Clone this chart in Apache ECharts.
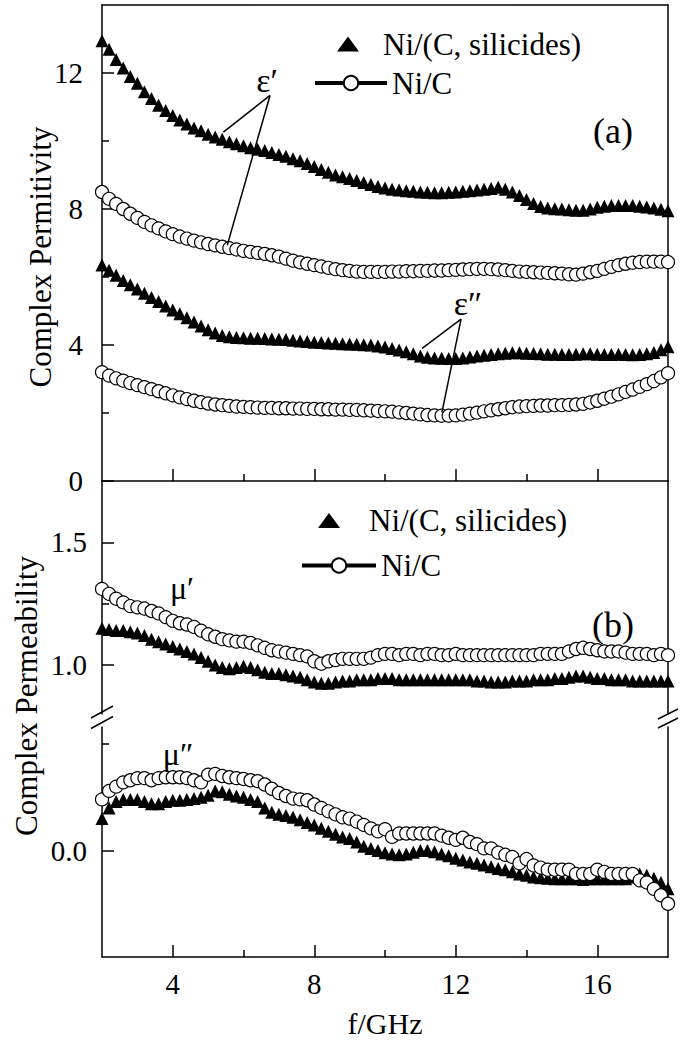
<!DOCTYPE html>
<html>
<head>
<meta charset="utf-8">
<script src="https://cdn.jsdelivr.net/npm/echarts@6.0.0/dist/echarts.min.js"></script>
<style>
html,body{margin:0;padding:0;background:#fff;}
#chart{width:685px;height:1042px;}
</style>
</head>
<body>
<div id="chart"></div>
<script>
// ---------------- data ----------------
const freq = [2.0,2.2,2.4,2.6,2.8,3.0,3.2,3.4,3.6,3.8,4.0,4.2,4.4,4.6,4.8,5.0,5.2,5.4,5.6,5.8,
  6.0,6.2,6.4,6.6,6.8,7.0,7.2,7.4,7.6,7.8,8.0,8.2,8.4,8.6,8.8,9.0,9.2,9.4,9.6,9.8,
  10.0,10.2,10.4,10.6,10.8,11.0,11.2,11.4,11.6,11.8,12.0,12.2,12.4,12.6,12.8,13.0,13.2,13.4,13.6,13.8,
  14.0,14.2,14.4,14.6,14.8,15.0,15.2,15.4,15.6,15.8,16.0,16.2,16.4,16.6,16.8,17.0,17.2,17.4,17.6,17.8,18.0];

// (a) complex permittivity
const epsRealSil = [12.95,12.7,12.4,12.15,11.9,11.7,11.45,11.25,11.05,10.9,10.75,10.62,10.5,10.38,10.3,10.2,10.12,10.05,9.98,9.92,
  9.86,9.8,9.76,9.72,9.66,9.6,9.55,9.48,9.42,9.34,9.25,9.16,9.08,9.0,8.95,8.9,8.84,8.78,8.72,8.66,
  8.62,8.58,8.56,8.54,8.52,8.5,8.49,8.48,8.48,8.49,8.5,8.52,8.54,8.56,8.58,8.6,8.64,8.58,8.5,8.4,
  8.28,8.16,8.07,8.03,8.01,8.0,7.98,7.96,7.96,8.0,8.05,8.08,8.1,8.1,8.1,8.1,8.08,8.06,8.03,7.99,7.95];
const epsRealNiC = [8.5,8.3,8.15,8.0,7.86,7.74,7.62,7.52,7.43,7.34,7.26,7.19,7.13,7.07,7.02,6.97,6.93,6.89,6.85,6.81,
  6.77,6.74,6.71,6.68,6.64,6.6,6.54,6.48,6.43,6.39,6.35,6.31,6.27,6.23,6.2,6.18,6.16,6.15,6.15,6.15,
  6.15,6.16,6.16,6.17,6.17,6.18,6.18,6.19,6.19,6.2,6.21,6.22,6.23,6.24,6.24,6.23,6.22,6.2,6.18,6.16,
  6.15,6.14,6.13,6.12,6.11,6.1,6.08,6.07,6.1,6.14,6.18,6.24,6.3,6.35,6.39,6.42,6.44,6.45,6.45,6.45,6.44];
const epsImagSil = [6.35,6.2,6.05,5.9,5.77,5.65,5.52,5.4,5.28,5.15,5.03,4.92,4.8,4.68,4.56,4.45,4.35,4.28,4.24,4.22,
  4.21,4.2,4.2,4.19,4.18,4.17,4.16,4.14,4.12,4.1,4.08,4.07,4.06,4.05,4.04,4.03,4.02,4.01,4.0,3.97,
  3.94,3.9,3.85,3.8,3.74,3.68,3.64,3.62,3.61,3.6,3.6,3.62,3.65,3.68,3.7,3.72,3.74,3.76,3.77,3.77,
  3.76,3.75,3.74,3.73,3.73,3.72,3.72,3.73,3.74,3.74,3.73,3.72,3.72,3.73,3.72,3.71,3.72,3.74,3.78,3.86,3.95];
const epsImagNiC = [3.2,3.1,3.02,2.95,2.88,2.82,2.76,2.7,2.64,2.58,2.52,2.46,2.41,2.36,2.32,2.28,2.25,2.23,2.21,2.19,
  2.18,2.17,2.16,2.15,2.15,2.14,2.14,2.13,2.13,2.12,2.12,2.11,2.11,2.1,2.1,2.09,2.09,2.08,2.07,2.06,
  2.05,2.04,2.02,2.0,1.98,1.96,1.94,1.93,1.92,1.92,1.93,1.95,1.98,2.01,2.05,2.08,2.11,2.14,2.17,2.19,
  2.2,2.21,2.22,2.22,2.23,2.23,2.24,2.25,2.27,2.31,2.36,2.42,2.48,2.55,2.62,2.69,2.77,2.85,2.94,3.05,3.17];

// (b) complex permeability
const muRealSil = [1.15,1.145,1.14,1.14,1.135,1.13,1.12,1.105,1.095,1.085,1.075,1.065,1.055,1.045,1.03,1.015,1.0,0.99,0.985,0.99,
  0.995,0.99,0.98,0.97,0.965,0.965,0.96,0.955,0.95,0.94,0.93,0.925,0.925,0.93,0.935,0.935,0.94,0.94,0.94,0.945,
  0.945,0.945,0.94,0.94,0.94,0.94,0.94,0.94,0.94,0.94,0.94,0.94,0.94,0.935,0.935,0.93,0.93,0.93,0.935,0.935,
  0.935,0.94,0.94,0.94,0.945,0.945,0.95,0.955,0.955,0.95,0.945,0.945,0.94,0.94,0.94,0.935,0.935,0.935,0.935,0.935,0.935];
const muRealNiC = [1.31,1.29,1.27,1.255,1.24,1.235,1.23,1.22,1.21,1.195,1.18,1.17,1.165,1.155,1.14,1.125,1.115,1.105,1.1,1.095,
  1.095,1.09,1.08,1.07,1.06,1.055,1.05,1.045,1.04,1.035,1.015,1.005,1.015,1.02,1.025,1.025,1.025,1.025,1.03,1.04,
  1.045,1.045,1.04,1.045,1.045,1.04,1.045,1.045,1.04,1.04,1.045,1.04,1.04,1.04,1.04,1.04,1.04,1.04,1.04,1.04,
  1.04,1.04,1.045,1.045,1.045,1.045,1.055,1.065,1.07,1.065,1.06,1.055,1.055,1.055,1.05,1.045,1.045,1.045,1.04,1.045,1.04];
const muImagSil = [0.075,0.1,0.115,0.12,0.12,0.12,0.115,0.11,0.11,0.115,0.118,0.118,0.12,0.122,0.125,0.13,0.14,0.138,0.132,0.128,
  0.125,0.12,0.115,0.1,0.09,0.085,0.082,0.078,0.072,0.066,0.06,0.052,0.045,0.038,0.032,0.028,0.02,0.01,0.005,0.0,
  -0.005,-0.008,-0.01,-0.008,-0.004,0.0,0.0,-0.003,-0.008,-0.012,-0.018,-0.022,-0.027,-0.03,-0.034,-0.038,-0.042,-0.045,-0.05,-0.055,
  -0.058,-0.062,-0.064,-0.065,-0.066,-0.066,-0.066,-0.066,-0.068,-0.066,-0.066,-0.066,-0.066,-0.066,-0.066,-0.062,-0.055,-0.058,-0.065,-0.075,-0.09];
const muImagNiC = [0.12,0.14,0.15,0.16,0.165,0.17,0.17,0.165,0.17,0.172,0.172,0.172,0.17,0.165,0.16,0.178,0.18,0.175,0.172,0.17,
  0.168,0.165,0.163,0.155,0.145,0.135,0.128,0.122,0.12,0.118,0.108,0.1,0.092,0.085,0.078,0.075,0.068,0.06,0.052,0.045,
  0.05,0.032,0.04,0.04,0.04,0.04,0.04,0.04,0.035,0.03,0.025,0.03,0.02,0.015,0.005,0.005,-0.005,-0.01,-0.015,-0.03,
  -0.02,-0.035,-0.04,-0.045,-0.045,-0.045,-0.045,-0.055,-0.055,-0.055,-0.045,-0.05,-0.055,-0.055,-0.055,-0.055,-0.07,-0.075,-0.09,-0.105,-0.125];

// tick values
const xMajor = [4, 8, 12, 16];
const xMinor = [6, 10, 14];
const yMajorA = [0, 4, 8, 12];
const yMinorA = [2, 6, 10];
const yMajorB1 = [1.0, 1.5];
const yMinorB1 = [1.25];
const yMajorB2 = [0.0];
const yMinorB2 = [0.25];

// annotation pointers (data coordinates of panel a)
const epsRealPointer = [[6.75, 11.34], [5.43, 10.26], [5.54, 6.93]];
const epsImagPointer = [[12.15, 4.76], [11.05, 3.90], [11.61, 2.02]];

const NAME_SIL = 'Ni/(C, silicides)';
const NAME_NIC = 'Ni/C';
// -----------------------------------------------------------------------

const FONT = 'Liberation Serif';
const pairs = arr => freq.map((f, i) => [f, arr[i]]);

function mkAxis(gridIndex, position, min, max, o) {
  o = o || {};
  const ax = {
    type: 'value', gridIndex: gridIndex, position: position, min: min, max: max,
    splitLine: {show: false},
    axisLine: {show: !!o.line, onZero: false, lineStyle: {color: '#000', width: 1.5}},
    axisTick: {show: !!o.ticks, inside: true, length: o.len || 12,
      lineStyle: {color: '#000', width: 1.5}},
    axisLabel: {show: !!o.labels, margin: o.margin || 14, color: '#000',
      fontFamily: FONT, fontSize: 29},
    axisPointer: {show: false}
  };
  if (o.ticks) ax.axisTick.customValues = o.ticks;
  if (o.labels) { ax.axisLabel.customValues = o.labels; }
  if (o.fmt) ax.axisLabel.formatter = o.fmt;
  if (o.name) {
    ax.name = o.name; ax.nameLocation = 'middle'; ax.nameGap = o.nameGap;
    ax.nameTextStyle = {color: '#000', fontFamily: FONT, fontSize: 30};
  }
  return ax;
}
const fmt1 = v => Number(v).toFixed(1);
const fmt0 = v => String(Math.round(v));

const grids = [
  {left: 102, top: 5, width: 566, height: 476},
  {left: 102, top: 481, width: 566, height: 233},
  {left: 102, top: 727, width: 566, height: 230}
].map(g => Object.assign(g, {containLabel: false, outerBoundsMode: 'none'}));

const xAxes = [
  mkAxis(0, 'bottom', 2, 18, {line: true, ticks: xMajor, len: 12}),           // 0
  mkAxis(0, 'bottom', 2, 18, {ticks: xMinor, len: 7}),                        // 1
  mkAxis(0, 'top', 2, 18, {line: true}),                                       // 2
  mkAxis(1, 'bottom', 2, 18, {}),                                              // 3
  mkAxis(2, 'bottom', 2, 18, {line: true, ticks: xMajor, len: 12, labels: xMajor, margin: 12,
    fmt: fmt0, name: 'f/GHz', nameGap: 51}),                                   // 4
  mkAxis(2, 'bottom', 2, 18, {ticks: xMinor, len: 7})                          // 5
];
const yAxes = [
  mkAxis(0, 'left', 0, 14, {line: true, ticks: yMajorA, len: 12, labels: yMajorA, margin: 19, fmt: fmt0}), // 0
  mkAxis(0, 'left', 0, 14, {ticks: yMinorA, len: 7}),                                                  // 1
  mkAxis(0, 'right', 0, 14, {line: true}),                                                             // 2
  mkAxis(1, 'left', 0.8, 1.75, {line: true, ticks: yMajorB1, len: 12, labels: yMajorB1, margin: 15, fmt: fmt1}), // 3
  mkAxis(1, 'left', 0.8, 1.75, {ticks: yMinorB1, len: 7}),                                             // 4
  mkAxis(1, 'right', 0.8, 1.75, {line: true}),                                                         // 5
  mkAxis(2, 'left', -0.25, 0.29, {line: true, ticks: yMajorB2, len: 12, labels: yMajorB2, margin: 15, fmt: fmt1}), // 6
  mkAxis(2, 'left', -0.25, 0.29, {ticks: yMinorB2, len: 7}),                                           // 7
  mkAxis(2, 'right', -0.25, 0.29, {line: true})                                                        // 8
];

function triSeries(name, arr, xi, yi, extra) {
  return Object.assign({
    name: name, type: 'scatter', xAxisIndex: xi, yAxisIndex: yi,
    symbol: 'triangle', symbolSize: 13, symbolKeepAspect: true,
    itemStyle: {color: '#000', opacity: 1},
    data: pairs(arr), silent: true, z: 2
  }, extra || {});
}
function circSeries(name, arr, xi, yi) {
  return {
    name: name, type: 'line', xAxisIndex: xi, yAxisIndex: yi,
    symbol: 'circle', symbolSize: 13, showSymbol: true, showAllSymbol: true,
    lineStyle: {color: '#000', width: 1.5},
    itemStyle: {color: '#fff', borderColor: '#000', borderWidth: 1.2, opacity: 1},
    data: pairs(arr), silent: true, z: 3
  };
}
const pointerStyle = {color: '#000', width: 1.5, type: 'solid'};
function pointerLines(p) {
  return [
    [{coord: p[0]}, {coord: p[1]}],
    [{coord: p[0]}, {coord: p[2]}]
  ];
}

const series = [
  triSeries(NAME_SIL, epsRealSil, 0, 0, {
    markLine: {silent: true, symbol: ['none', 'none'], label: {show: false}, lineStyle: pointerStyle,
      animation: false, data: pointerLines(epsRealPointer).concat(pointerLines(epsImagPointer))}
  }),
  circSeries(NAME_NIC, epsRealNiC, 0, 0),
  triSeries(NAME_SIL, epsImagSil, 0, 0),
  circSeries(NAME_NIC, epsImagNiC, 0, 0),
  triSeries(NAME_SIL, muRealSil, 3, 3),
  circSeries(NAME_NIC, muRealNiC, 3, 3),
  triSeries(NAME_SIL, muImagSil, 4, 6),
  circSeries(NAME_NIC, muImagNiC, 4, 6)
];

// one legend component per entry so each icon can have its own width
function legendItem(name, icon, left, top, iw, textPadLeft) {
  const item = icon ? {name: name, icon: icon} : {name: name};
  return {
    orient: 'vertical', left: left, top: top, padding: 0,
    itemWidth: iw, itemHeight: icon ? 15 : 18, selectedMode: false, symbolKeepAspect: !icon,
    data: [item],
    textStyle: {color: '#000', fontFamily: FONT, fontSize: 31, padding: [0, 0, 0, textPadLeft || 0]},
    lineStyle: {width: 4, color: '#000'}
  };
}
const legends = [
  legendItem(NAME_SIL, 'triangle', 337, 28.5, 22, 19),
  legendItem(NAME_NIC, null, 313, 67.5, 72, 0),
  legendItem(NAME_SIL, 'triangle', 318, 505, 22, 24),
  legendItem(NAME_NIC, null, 300, 550, 74, 0)
];

function txt(text, x, y, size, rot) {
  return {
    type: 'text', x: x, y: y, rotation: rot || 0, silent: true, z: 100,
    style: {text: text, fill: '#000', font: size + 'px "' + FONT + '"',
      align: 'center', verticalAlign: 'middle', textAlign: 'center', textVerticalAlign: 'middle'}
  };
}
function seg(x1, y1, x2, y2) {
  return {type: 'line', silent: true, z: 100,
    shape: {x1: x1, y1: y1, x2: x2, y2: y2},
    style: {stroke: '#000', lineWidth: 1.5}};
}
const graphics = [
  txt('Complex Permitivity', 40, 257, 31, Math.PI / 2),
  txt('Complex Permeability', 26, 696, 31, Math.PI / 2),
  txt('(a)', 613, 131, 36),
  txt('(b)', 613, 625, 36),
  txt('\u03b5\u2032', 267, 80, 34),
  txt('\u03b5\u2033', 468, 303, 34),
  txt('\u03bc\u2032', 182, 588, 32),
  txt('\u03bc\u2033', 178, 754, 32),
  // axis break marks
  seg(91, 718, 113, 706), seg(91, 728.5, 113, 716.5),
  seg(658, 719, 678, 709), seg(658, 728, 678, 718)
];

const chart = echarts.init(document.getElementById('chart'), null, {renderer: 'svg'});
chart.setOption({
  animation: false,
  backgroundColor: '#fff',
  grid: grids,
  xAxis: xAxes,
  yAxis: yAxes,
  legend: legends,
  series: series,
  graphic: graphics
});
</script>
</body>
</html>
